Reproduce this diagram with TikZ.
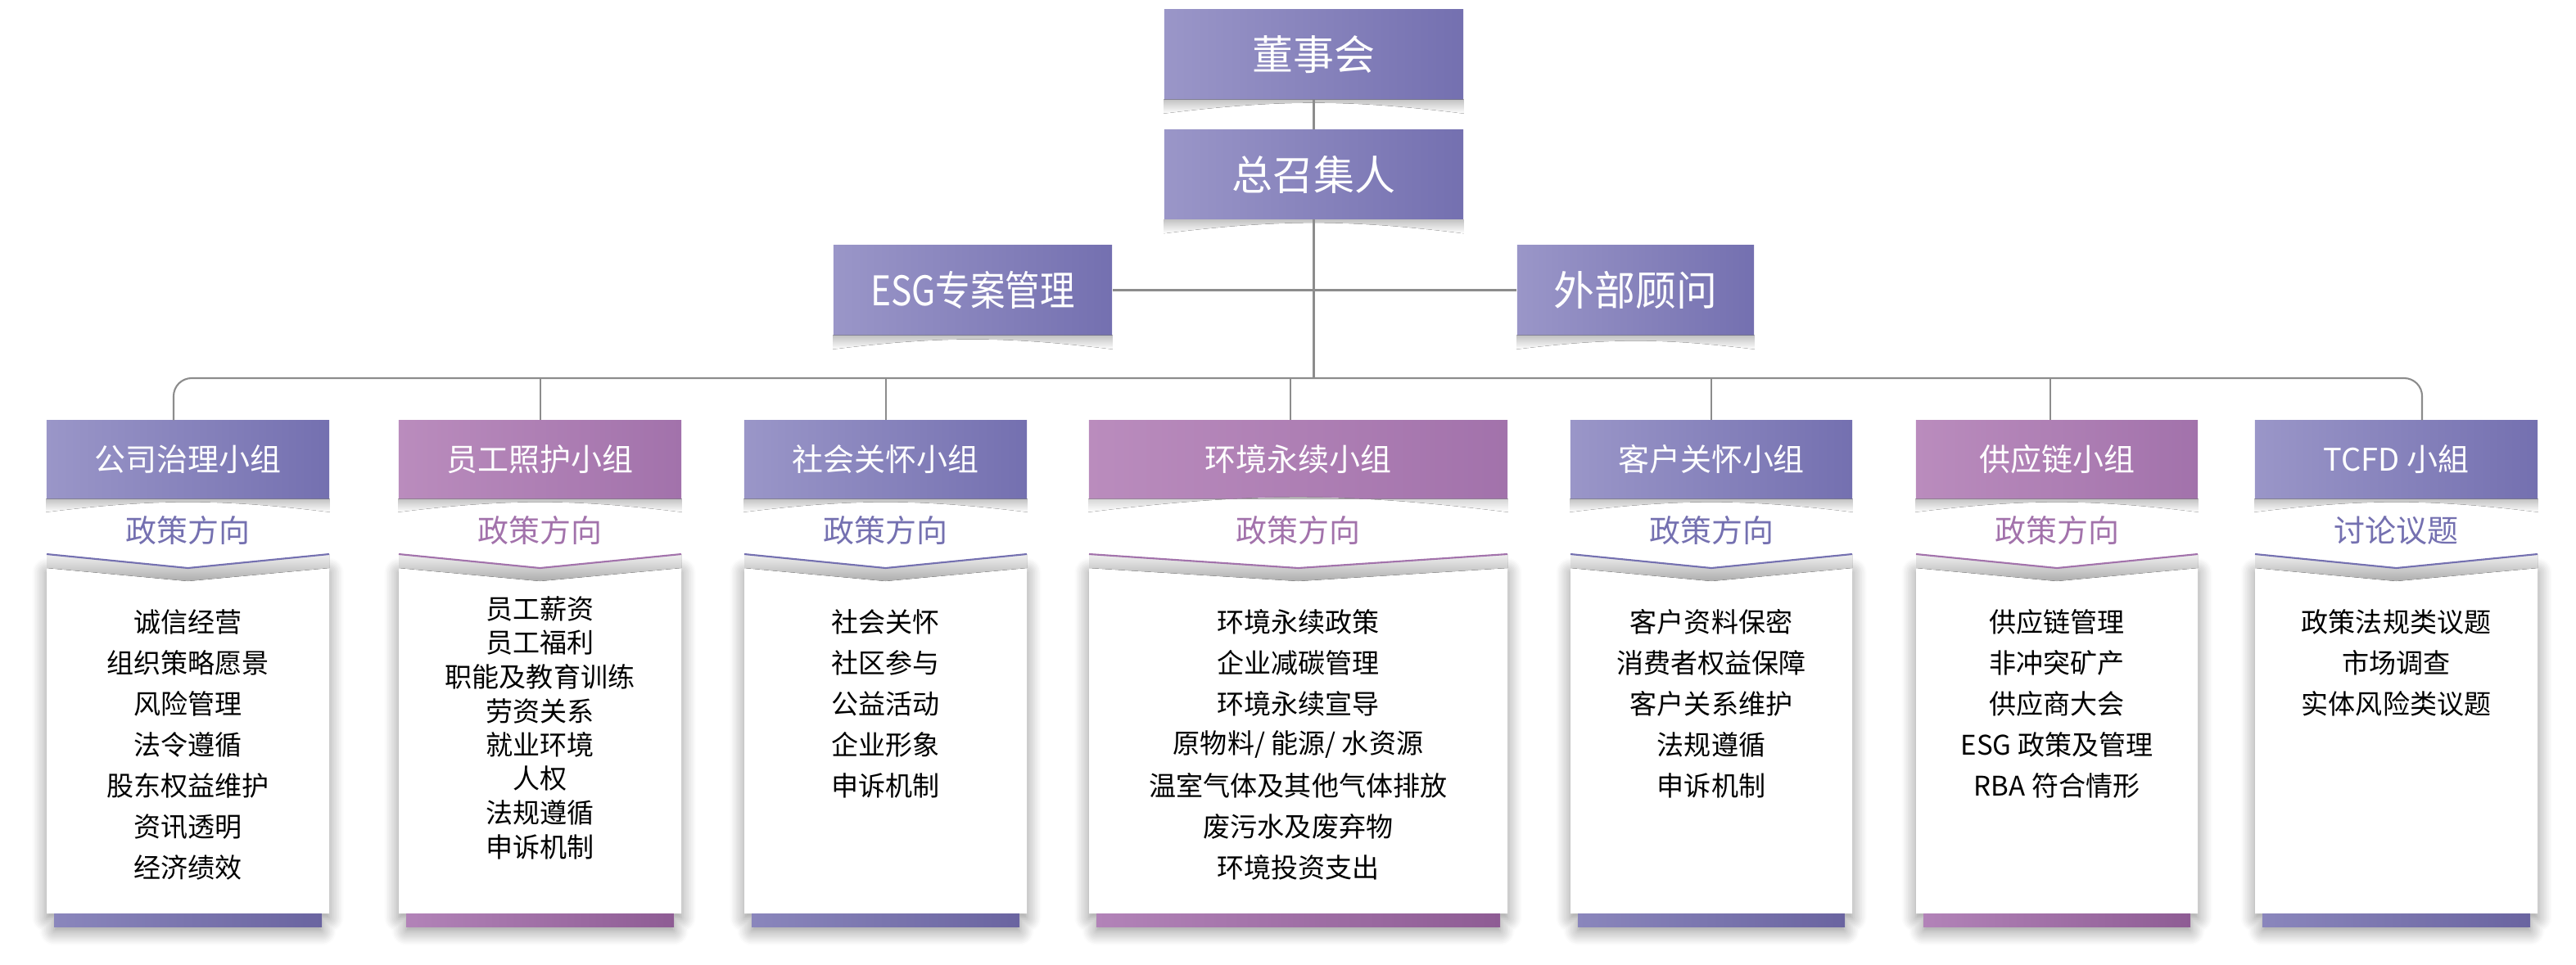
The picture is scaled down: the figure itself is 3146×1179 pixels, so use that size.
\documentclass[tikz,border=0pt]{standalone}
\usepackage{fontspec}
\usepackage{graphicx}
\setmainfont{Noto Sans CJK SC}
\usetikzlibrary{calc}
\usetikzlibrary{shadows.blur}

% colours of the two kinds of groups
\definecolor{grpAlight}{HTML}{9A96C8}
\definecolor{grpAdark}{HTML}{7470B0}
\definecolor{grpAbarl}{HTML}{8A86BC}
\definecolor{grpAbar}{HTML}{6A64A0}
\definecolor{grpBlight}{HTML}{BA8CBD}
\definecolor{grpBdark}{HTML}{A272AB}
\definecolor{grpBbarl}{HTML}{B283B8}
\definecolor{grpBbar}{HTML}{8E5C94}
\definecolor{linkgray}{HTML}{8C8C8C}

\tikzset{
  topbox/.style={inner sep=0pt, text=white, left color=grpAlight, right color=grpAdark,
    minimum height=1.09cm, font=\fontsize{14.2}{16}\selectfont},
  grphead/.style={inner sep=0pt, text=white, minimum height=0.95cm, font=\fontsize{10.8}{13}\selectfont},
  grplabel/.style={inner sep=0pt, font=\fontsize{10.8}{13}\selectfont},
  item/.style={inner sep=0pt, font=\fontsize{9.4}{11}\selectfont},
  link/.style={draw=linkgray, line width=0.6pt},
  curlshadow/.style={top color=black!24, bottom color=white},
  cardshadow/.style={blur shadow={shadow xshift=0pt, shadow yshift=-1.5pt,
    shadow blur radius=5pt, shadow blur steps=10, shadow opacity=45}},
}

\begin{document}
\begin{tikzpicture}[x=0.01cm, y=-0.01cm]
        \useasboundingbox (0,0) rectangle (3146,1179);

        % Top of the chart
        \node[topbox, minimum width=3.65cm] (board) at (1604.5,66.5) {董事会};
        \node[topbox, minimum width=3.65cm] (conv) at (1604.5,213) {总召集人};
        \node[topbox, minimum width=3.40cm] (esg) at (1188,354.5) {\scalebox{0.85}[1]{ESG专案管理}};
        \node[topbox, minimum width=2.89cm] (advisor) at (1997.5,354.5) {外部顾问};
        % Curled shadows below the top boxes
        \foreach \n in {board,conv,esg,advisor}
          \fill[curlshadow] (\n.south west) -- (\n.south east) -- ++(0,17)
            to[bend right=7] ($(\n.south west)+(0,17)$) -- cycle;

        % The seven groups: number / left / right / drop / colour / head / label / first line / step / items
        \foreach \i/\xa/\xb/\dr/\g/\head/\lab/\ys/\dy/\items in {
          1/57/402/212/A/公司治理小组/政策方向/760/50/{诚信经营,组织策略愿景,风险管理,法令遵循,股东权益维护,资讯透明,经济绩效},
          2/487/832/660/B/员工照护小组/政策方向/744/41.5/{员工薪资,员工福利,职能及教育训练,劳资关系,就业环境,人权,法规遵循,申诉机制},
          3/909/1254/1082/A/社会关怀小组/政策方向/760/50/{社会关怀,社区参与,公益活动,企业形象,申诉机制},
          4/1330/1841/1576/B/环境永续小组/政策方向/760/50/{环境永续政策,企业减碳管理,环境永续宣导,{原物料/ 能源/ 水资源},温室气体及其他气体排放,废污水及废弃物,环境投资支出},
          5/1918/2262/2090/A/客户关怀小组/政策方向/760/50/{客户资料保密,消费者权益保障,客户关系维护,法规遵循,申诉机制},
          6/2340/2684/2504/B/供应链小组/政策方向/760/50/{供应链管理,非冲突矿产,供应商大会,ESG 政策及管理,RBA 符合情形},
          7/2754/3099/2958/A/TCFD 小組/讨论议题/760/50/{政策法规类议题,市场调查,实体风险类议题}}
        {
          \pgfmathsetmacro{\xm}{(\xa+\xb)/2}
          \pgfmathsetmacro{\w}{(\xb-\xa)/100}
          % Card with its shadow and the bar below it
          \fill[white, cardshadow] (\xa,694) -- (\xm,710) -- (\xb,694) -- (\xb,1116) -- (\xb-9,1116)
            -- (\xb-9,1132) -- (\xa+9,1132) -- (\xa+9,1116) -- (\xa,1116) -- cycle;
          \fill[left color=grp\g barl, right color=grp\g bar] (\xa+9,1116) rectangle (\xb-9,1132);
          % Folded band and the coloured chevron
          \fill[top color=black!6, bottom color=black!32] (\xa,677) -- (\xm,694) -- (\xb,677)
            -- (\xb,694) -- (\xm,710) -- (\xa,694) -- cycle;
          \draw[draw=grp\g dark, line width=0.6pt] (\xa,677) -- (\xm,694) -- (\xb,677);
          % Head of the group
          \node[grphead, left color=grp\g light, right color=grp\g dark, minimum width=\w cm] (h\i) at (\xm,561.5) {\head};
          \fill[curlshadow] (h\i.south west) -- (h\i.south east) -- ++(0,16)
            to[bend right=7] ($(h\i.south west)+(0,16)$) -- cycle;
          \node[grplabel, text=grp\g dark] (p\i) at (\xm,648) {\lab};
          % Lines of the card
          \foreach \t [count=\k] in \items
            \node[item] (c\i-\k) at (\xm,{\ys+\dy*(\k-1)}) {\t};
          \coordinate (b\i) at (\dr,462);
        }

        % Connectors
        \coordinate (trunk) at (conv.south |- b1);
        \draw[link] (board) -- (conv);
        \draw[link] (conv) -- (trunk);
        \draw[link] (esg) -- (advisor);
        \draw[link, rounded corners=0.22cm] (h1.north -| b1) -- (b1) -- (b7) -- (h7.north -| b7);
        \foreach \i in {2,...,6}
          \draw[link] (b\i) -- (h\i.north -| b\i);
\end{tikzpicture}
\end{document}
